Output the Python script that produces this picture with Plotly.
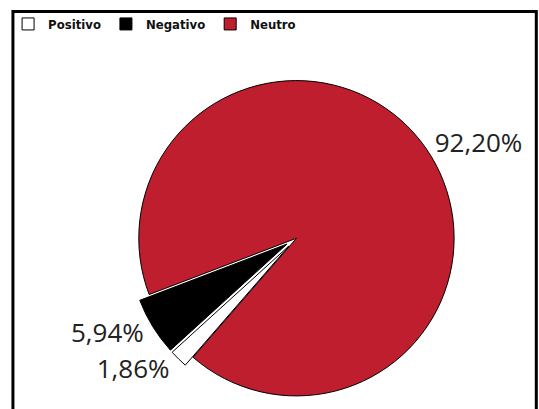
import plotly.graph_objects as go

labels = ["Positivo", "Negativo", "Neutro"]
values = [1.86, 5.94, 92.20]
colors = ["#FFFFFF", "#000000", "#BE1E2D"]
pulls = [0.07, 0.07, 0]

fig = go.Figure(go.Pie(
    labels=labels,
    values=values,
    sort=False,
    direction="clockwise",
    rotation=221,
    pull=pulls,
    marker=dict(colors=colors, line=dict(color="#000000", width=1)),
    texttemplate="%{percent:.2%}",
    textposition="outside",
    textfont=dict(family="Open Sans", size=26, color="#222222"),
    domain=dict(x=[0.2, 0.9], y=[0.005, 0.83]),
    hoverinfo="label+percent",
))

fig.update_layout(
    width=539, height=409,
    separators=",.",
    margin=dict(l=0, r=0, t=0, b=0, autoexpand=False),
    paper_bgcolor="white",
    plot_bgcolor="white",
    showlegend=True,
    legend=dict(
        orientation="h", x=0.015, y=0.978, xanchor="left", yanchor="top",
        bgcolor="rgba(0,0,0,0)",
        font=dict(family="DejaVu Sans Condensed", size=13, color="#111111", weight="bold"),
        itemwidth=30, traceorder="normal",
    ),
    shapes=[dict(type="rect", xref="paper", yref="paper",
                 x0=0.024, x1=0.995, y0=-0.05, y1=0.972,
                 line=dict(color="#000000", width=3))],
)

fig.write_html(
    "out.html",
    config={"displayModeBar": False},
    post_script="document.body.style.margin='0';document.body.style.overflow='hidden';",
)
